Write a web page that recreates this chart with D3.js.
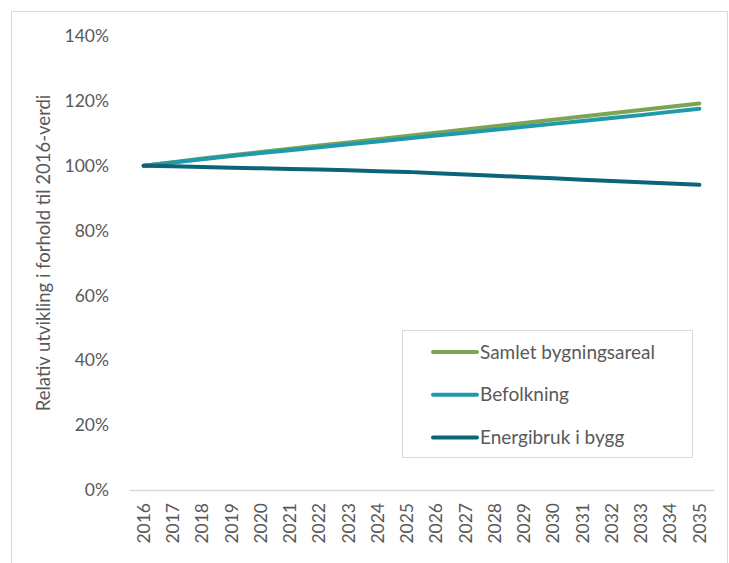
<!DOCTYPE html>
<html>
<head>
<meta charset="utf-8">
<script src="https://cdn.jsdelivr.net/npm/d3@7"></script>
<style>
  body { margin: 0; background: #fff; }
  text { font-family: Lato, "Open Sans", sans-serif; fill: #595959; }
</style>
</head>
<body>
<div id="chart-area"></div>
<script>
var years = ['2016', '2017', '2018', '2019', '2020', '2021', '2022', '2023', '2024', '2025',
    '2026', '2027', '2028', '2029', '2030', '2031', '2032', '2033', '2034', '2035'];

var samlet = [100.0, 101.1, 102.2, 103.2, 104.2, 105.2, 106.2, 107.2, 108.2, 109.2,
    110.2, 111.2, 112.2, 113.2, 114.2, 115.2, 116.2, 117.2, 118.2, 119.2];
var befolkning = [100.0, 101.0, 102.0, 103.0, 103.9, 104.8, 105.7, 106.6, 107.5, 108.4,
    109.3, 110.2, 111.1, 112.0, 112.9, 113.8, 114.7, 115.6, 116.6, 117.6];
var energi = [100.0, 99.8, 99.6, 99.4, 99.2, 99.0, 98.8, 98.6, 98.3, 98.1,
    97.7, 97.3, 96.9, 96.5, 96.1, 95.7, 95.3, 94.9, 94.5, 94.1];

var yTicks = [0, 20, 40, 60, 80, 100, 120, 140];

var seriesNames = ['Samlet bygningsareal', 'Befolkning', 'Energibruk i bygg'];
var seriesValues = [samlet, befolkning, energi];
var colors = ['#7ba454', '#1f9aab', '#0c6478'];

var svg = d3.select("#chart-area").append("svg")
    .attr("width", 729)
    .attr("height", 563)

// outer frame
svg.append('rect')
    .attr('x', 11.5)
    .attr('y', 11.5)
    .attr('width', 716)
    .attr('height', 600)
    .attr('fill', 'none')
    .attr('stroke', '#d9d9d9')

var x = d3.scaleBand()
    .domain(years)
    .range([129, 714])

var y = d3.scaleLinear()
    .domain([0, 140])
    .range([490, 36])

// y axis labels
var yAxis = d3.axisLeft(y)
    .tickValues(yTicks)
    .tickSize(0)
    .tickPadding(20)
    .tickFormat((d) => d + '%')

svg.append('g')
    .attr('transform', 'translate(129,0)')
    .call(yAxis)
    .call(g => g.select('.domain').remove())
    .selectAll('text')
    .style('font-size', '17.5px')
    .attr('fill', '#595959')

// x axis
var xAxis = d3.axisBottom(x)
    .tickSize(0)

var gx = svg.append('g')
    .attr('transform', 'translate(0,490)')
    .call(xAxis)

gx.select('.domain')
    .attr('stroke', '#d9d9d9')
    .attr('stroke-width', 1.5)

gx.selectAll('text')
    .style('font-size', '17.5px')
    .attr('fill', '#595959')
    .attr('text-anchor', 'end')
    .attr('dy', '0.35em')
    .attr('transform', 'rotate(-90)')
    .attr('x', -13)
    .attr('y', 0)

// y axis title
svg.append('text')
    .attr('transform', 'translate(50,253) rotate(-90)')
    .attr('text-anchor', 'middle')
    .style('font-size', '18.5px')
    .text('Relativ utvikling i forhold til 2016-verdi')

// lines
var line = d3.line()
    .x((d, i) => x(years[i]) + x.bandwidth() / 2)
    .y((d) => y(d))

svg.selectAll('.series')
    .data(seriesValues)
    .enter()
    .append('path')
    .attr('class', 'series')
    .attr('d', (d) => line(d))
    .attr('fill', 'none')
    .attr('stroke', (d, i) => colors[i])
    .attr('stroke-width', 4)
    .attr('stroke-linecap', 'round')
    .attr('stroke-linejoin', 'round')

// legend
svg.append('rect')
    .attr('x', 402.5)
    .attr('y', 330.5)
    .attr('width', 290)
    .attr('height', 127)
    .attr('fill', '#fff')
    .attr('stroke', '#d9d9d9')

var legend = svg.selectAll('.legend')
    .data(seriesNames)
    .enter()
    .append('g')
    .attr('class', 'legend')
    .attr('transform', (d, i) => 'translate(0,' + (352 + i * 42.7) + ')')

legend.append('line')
    .attr('x1', 433)
    .attr('x2', 477)
    .attr('stroke', (d, i) => colors[i])
    .attr('stroke-width', 4)
    .attr('stroke-linecap', 'round')

legend.append('text')
    .attr('x', 480)
    .attr('dy', '0.35em')
    .style('font-size', '19px')
    .text((d) => d)
</script>
</body>
</html>
